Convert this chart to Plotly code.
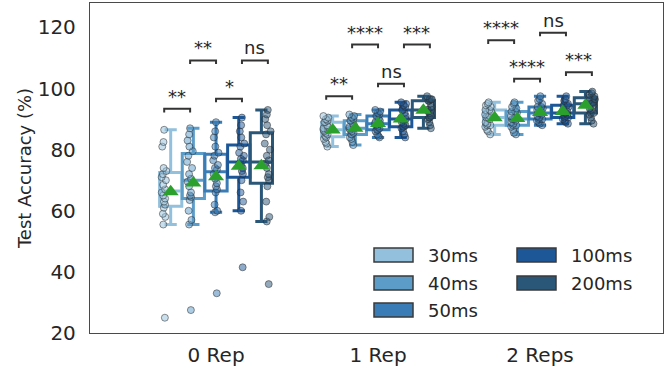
import numpy as np
import plotly.graph_objects as go

categories = ["0 Rep", "1 Rep", "2 Reps"]
durations = ["30ms", "40ms", "50ms", "100ms", "200ms"]
colors = ["#93c0dc", "#5b9cc9", "#3a7cb5", "#1d5797", "#2a5677"]

# Test accuracy (%) per repetition group and duration
rep0_30ms = [25, 55.5, 58, 59, 61, 62, 63, 64, 65, 66, 67, 68.5, 70, 71, 72, 73, 74, 81, 82.5, 86.5]
rep0_40ms = [27.5, 55.5, 57, 60, 63.5, 64.5, 65, 66, 68, 69.5, 70.5, 72, 74, 76, 78, 79.5, 81, 83, 85, 87]
rep0_50ms = [33, 59.5, 60, 62, 66, 67, 68, 69, 70.5, 72, 73.5, 74, 75, 76.5, 78, 79, 81, 84, 86, 89]
rep0_100ms = [41.5, 60, 63, 66, 70, 72, 73, 74, 75, 75.5, 76.5, 77, 78, 79, 81, 82, 84, 86, 88, 90.5]
rep0_200ms = [36, 56.5, 58, 63, 68, 70, 71, 72, 74, 75.5, 76.5, 78, 80, 82, 85, 86, 88, 90, 91.5, 93]

rep1_30ms = [81, 82, 82.5, 83.5, 84, 84.5, 85, 85.5, 86, 86.5, 86.5, 87, 87.5, 88, 89, 89, 89.5, 90, 90.5, 91]
rep1_40ms = [81.5, 82.5, 83.5, 84, 85, 85, 85.5, 86, 86.5, 87, 87, 87.5, 88, 88.5, 89.5, 89.5, 90, 90.5, 91, 91.5]
rep1_50ms = [84, 84.5, 85, 86, 86.5, 86.5, 87, 87.5, 88, 88.5, 88.5, 89, 89.5, 90, 91, 91, 91.5, 92, 92.5, 93]
rep1_100ms = [84, 85, 86, 87, 87.5, 87.5, 88, 88.5, 89, 90, 90, 90.5, 91, 92, 93, 93, 94, 94.5, 95, 95.5]
rep1_200ms = [87, 88, 89, 90, 90.5, 90.5, 91, 92, 92.5, 93, 93, 93, 94, 95, 96, 96, 96.5, 96.5, 96.5, 97.5]

rep2_30ms = [85, 86, 86.5, 87.5, 88, 88, 88.5, 89, 90, 90.5, 90.5, 91, 91.5, 92.5, 93, 93, 94, 94.5, 95, 95.5]
rep2_40ms = [85, 85.5, 86.5, 87.5, 88, 88, 88.5, 89, 89.5, 90, 90, 90.5, 91, 92, 92.5, 92.5, 93.5, 94, 95, 95.5]
rep2_50ms = [88, 88.5, 89, 89.5, 90, 90, 90.5, 91, 91.5, 92, 92, 92.5, 93, 93.5, 94, 94, 95, 96, 96.5, 97.5]
rep2_100ms = [88.5, 89, 89.5, 90, 90.5, 90.5, 91, 91.5, 91.5, 92, 92, 92.5, 93, 94, 94.5, 94.5, 95, 96, 96.5, 97.5]
rep2_200ms = [88.5, 89.5, 90.5, 91.5, 92, 92, 93, 93.5, 94.5, 95, 95, 95.5, 96, 96.5, 97, 97, 97.5, 98, 98.5, 99]

groups = [
    [rep0_30ms, rep0_40ms, rep0_50ms, rep0_100ms, rep0_200ms],
    [rep1_30ms, rep1_40ms, rep1_50ms, rep1_100ms, rep1_200ms],
    [rep2_30ms, rep2_40ms, rep2_50ms, rep2_100ms, rep2_200ms],
]

# Significance annotations
sig_category = [0, 0, 0, 0, 1, 1, 1, 1, 2, 2, 2, 2]
sig_left = [0, 1, 2, 3, 0, 1, 2, 3, 0, 1, 2, 3]
sig_level = [93.4, 109.2, 96.7, 109.2, 97.5, 114.4, 101.6, 114.4, 115.8, 103.2, 118.3, 105.3]
sig_label = ["**", "**", "*", "ns", "**", "****", "ns", "***", "****", "****", "ns", "***"]

FONT = "DejaVu Sans"
TXT = "#262626"
box_step = 0.14
strip_step = 0.16
box_width = 0.137


def rgba(hex_color, a):
    h = hex_color.lstrip("#")
    r, g, b = int(h[0:2], 16), int(h[2:4], 16), int(h[4:6], 16)
    return f"rgba({r},{g},{b},{a})"


fig = go.Figure()

for i, (name, color) in enumerate(zip(durations, colors)):
    xs, ys = [], []
    for c in range(len(categories)):
        vals = groups[c][i]
        ys += vals
        xs += [c + (i - 2) * box_step] * len(vals)
    fig.add_trace(go.Box(
        x=xs, y=ys, name=name, width=box_width,
        boxpoints="all", jitter=0.3,
        pointpos=(i - 2) * (strip_step - box_step) / (box_width / 2),
        fillcolor="rgba(0,0,0,0)",
        line=dict(color=color, width=3),
        whiskerwidth=0.55,
        quartilemethod="linear",
        marker=dict(color=rgba(color, 0.5), size=7,
                    line=dict(color="rgba(40,40,40,0.5)", width=1)),
        showlegend=False, hoverinfo="skip",
    ))

# means
mx, my = [], []
for c in range(len(categories)):
    for i in range(len(durations)):
        mx.append(c + (i - 2) * box_step)
        my.append(float(np.mean(groups[c][i])))
fig.add_trace(go.Scatter(x=mx, y=my, mode="markers",
                         marker=dict(symbol="triangle-up", size=14, color="#2ca02c",
                                     line=dict(color="#2ca02c", width=0)),
                         showlegend=False, hoverinfo="skip"))

# brackets
leg = 1.2
bx, by = [], []
for c, l, lev, lab in zip(sig_category, sig_left, sig_level, sig_label):
    xl = c + (l - 2) * strip_step
    xr = c + (l - 1) * strip_step
    bx += [xl, xl, xr, xr, None]
    by += [lev - leg, lev, lev, lev - leg, None]
    fig.add_annotation(x=(xl + xr) / 2, y=lev, text=lab, showarrow=False,
                       yanchor="bottom", xanchor="center",
                       font=dict(family=FONT, size=18, color=TXT))
fig.add_trace(go.Scatter(x=bx, y=by, mode="lines",
                         line=dict(color="#333333", width=2),
                         showlegend=False, hoverinfo="skip"))

# manual legend (column-major, 3 rows)
L, R, T, B = 90, 2, 3, 33
W, H = 665 - L - R, 366 - T - B
def px(x):
    return (x - L) / W
def py(y):
    return (366 - B - y) / H
col_x = [374, 517]
row_y = [255, 283, 310]
for k, (name, color) in enumerate(zip(durations, colors)):
    col, row = k // 3, k % 3
    x0 = col_x[col]
    yc = row_y[row]
    fig.add_shape(type="rect", xref="paper", yref="paper",
                  x0=px(x0), x1=px(x0 + 39), y0=py(yc + 7), y1=py(yc - 7),
                  fillcolor=color, line=dict(color="#3a3a3a", width=1.5))
    fig.add_annotation(xref="paper", yref="paper", x=px(x0 + 52), y=py(yc),
                       text=name, showarrow=False, xanchor="left", yanchor="middle",
                       font=dict(family=FONT, size=18, color=TXT))

fig.update_layout(
    width=665, height=366,
    margin=dict(l=L, r=R, t=T, b=B, autoexpand=False),
    paper_bgcolor="white", plot_bgcolor="white",
    boxmode="overlay",
    font=dict(family=FONT, color=TXT),
    showlegend=False,
)
fig.update_xaxes(range=[-0.778, 2.759], tickvals=[0, 1, 2], ticktext=categories,
                 showline=True, mirror=True, linecolor="#4a4a4a", linewidth=1.3,
                 showgrid=False, zeroline=False, ticks="", automargin=False,
                 ticklabelstandoff=4,
                 tickfont=dict(family=FONT, size=20, color=TXT))
fig.update_yaxes(range=[20, 128], tickvals=[20, 40, 60, 80, 100, 120],
                 showline=True, mirror=True, linecolor="#4a4a4a", linewidth=1.3,
                 showgrid=False, zeroline=False, ticks="", automargin=False,
                 ticklabelstandoff=9,
                 tickfont=dict(family=FONT, size=20, color=TXT),
                 title=dict(text="Test Accuracy (%)", standoff=1,
                            font=dict(family=FONT, size=18, color=TXT)))

fig.write_html("out.html", config={"displayModeBar": False},
               post_script="document.body.style.margin='0';document.body.style.overflow='hidden';")
